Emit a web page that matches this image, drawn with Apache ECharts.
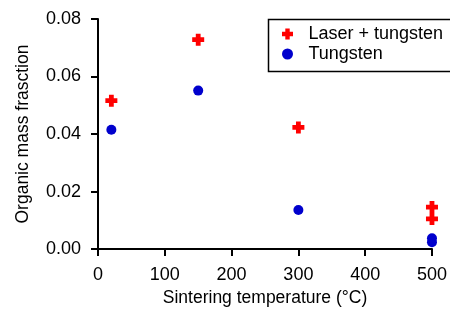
<!DOCTYPE html>
<html>
<head>
<meta charset="utf-8">
<script src="https://cdn.jsdelivr.net/npm/echarts@6/dist/echarts.min.js"></script>
<style>
  html, body { margin: 0; padding: 0; background: #fff; }
  #chart { width: 450px; height: 312px; }
</style>
</head>
<body>
<div id="chart"></div>
<script>
// sintering temperature (°C) and organic mass fraction
var laserTemps = [20, 150, 300, 500, 500];
var laserVals = [0.0516, 0.0728, 0.0423, 0.0146, 0.0105];
var tungTemps = [20, 150, 300, 500, 500];
var tungVals = [0.0415, 0.0551, 0.0136, 0.0038, 0.0024];

var crossPath = 'path://M3,0H7V3H10V7H7V10H3V7H0V3H3Z';
var font = 'Liberation Sans, Arial, sans-serif';

function pairs(xs, ys) {
  return xs.map(function (x, i) { return [x, ys[i]]; });
}

var tick = { show: true, length: 7, lineStyle: { color: '#000', width: 2 } };
var noTick = { show: false };

var chart = echarts.init(document.getElementById('chart'));

var option = {
  animation: false,
  grid: { left: 98, right: 12, top: 19, bottom: 62 },
  xAxis: [{
    type: 'value', min: 0, max: 500, interval: 100,
    name: 'Sintering temperature (°C)', nameLocation: 'middle', nameGap: 38,
    nameTextStyle: { color: '#000', fontSize: 17.5, fontFamily: font },
    axisLine: { show: true, lineStyle: { color: '#000', width: 2 } },
    axisTick: tick,
    splitLine: { show: false },
    axisLabel: { color: '#000', fontSize: 18, fontFamily: font, margin: 17 }
  }, {
    // tick-only copy of the x axis
    type: 'value', min: 0, max: 500, interval: 100, position: 'bottom',
    axisLine: { show: false }, axisTick: tick,
    axisLabel: { show: false }, splitLine: { show: false }
  }],
  yAxis: [{
    type: 'value', min: 0, max: 0.08, interval: 0.02,
    name: 'Organic mass frasction', nameLocation: 'middle', nameGap: 66,
    nameTextStyle: { color: '#000', fontSize: 17.5, fontFamily: font },
    axisLine: { show: true, lineStyle: { color: '#000', width: 2 } },
    axisTick: tick,
    splitLine: { show: false },
    axisLabel: {
      color: '#000', fontSize: 18, fontFamily: font, margin: 17,
      formatter: function (v) { return v.toFixed(2); }
    }
  }, {
    // tick-only copy of the y axis
    type: 'value', min: 0, max: 0.08, interval: 0.02, position: 'left',
    axisLine: { show: false }, axisTick: tick,
    axisLabel: { show: false }, splitLine: { show: false }
  }],
  // legend frame runs off the right edge like the original
  graphic: [{
    type: 'rect', left: 266, top: 17, z: 10,
    shape: { width: 220, height: 52 },
    style: { fill: 'none', stroke: '#000', lineWidth: 1.5 }
  }],
  legend: {
    orient: 'vertical',
    left: 266, top: 17,
    padding: [8, 0, 8, 16],
    itemGap: 2,
    itemWidth: 14, itemHeight: 11,
    textStyle: { color: '#000', fontSize: 18, fontFamily: font, padding: [0, 0, 0, 9] },
    data: [
      { name: 'Laser + tungsten', icon: crossPath },
      { name: 'Tungsten', icon: 'circle' }
    ]
  },
  series: [
    {
      name: 'Laser + tungsten', type: 'scatter',
      symbol: crossPath, symbolSize: 12,
      itemStyle: { color: '#ff0000', opacity: 1 },
      data: pairs(laserTemps, laserVals)
    },
    {
      name: 'Tungsten', type: 'scatter',
      symbol: 'circle', symbolSize: 10,
      itemStyle: { color: '#0000cd', opacity: 1 },
      data: pairs(tungTemps, tungVals)
    }
  ]
};
chart.setOption(option);
</script>
</body>
</html>
